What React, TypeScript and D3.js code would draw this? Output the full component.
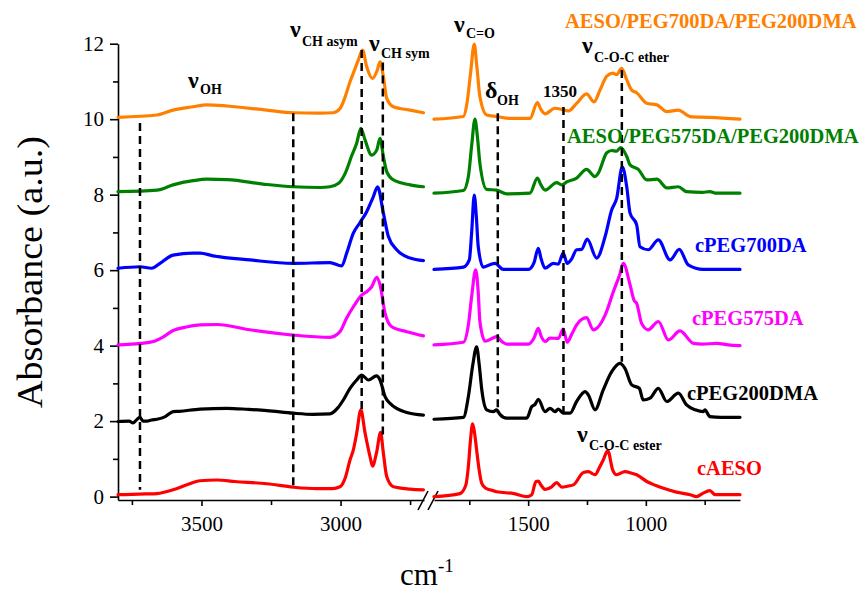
import React, { useEffect, useRef } from 'react';
import * as d3 from 'd3';

// samples, stacked bottom -> top
const seriesNames = [
  'cAESO',
  'cPEG200DMA',
  'cPEG575DA',
  'cPEG700DA',
  'AESO/PEG575DA/PEG200DMA',
  'AESO/PEG700DA/PEG200DMA',
];
const seriesColors = ['#ff0000', '#000000', '#ff00ff', '#0000ff', '#008000', '#ff8000'];
const seriesOffsets = [0, 2, 4, 6, 8, 10];

// axis ticks
const yMajorTicks = [0, 2, 4, 6, 8, 10, 12];
const yMinorTicks = [1, 3, 5, 7, 9, 11];
const highMajorTicks = [3500, 3000];
const highMinorTicks = [3750, 3250, 2750];
const lowMajorTicks = [1500, 1000];
const lowMinorTicks = [1750, 1250, 750];

// [wavenumber cm-1, absorbance] (before offset)
const aesoHigh = [
  [3800, 0.05], [3750, 0.06], [3700, 0.07], [3660, 0.08], [3602, 0.18], [3550, 0.32], [3505, 0.42],
  [3444, 0.44], [3380, 0.4], [3265, 0.34], [3170, 0.25], [3085, 0.21], [3030, 0.21], [3002, 0.26],
  [2983, 0.5], [2966, 0.97], [2954, 1.24], [2942, 1.68], [2927, 2.3], [2912, 1.69], [2894, 1.06],
  [2885, 0.81], [2871, 1.15], [2856, 1.7], [2846, 1.15], [2834, 0.53], [2810, 0.26], [2750, 0.2], [2702, 0.18],
];
const aesoLow = [
  [1900, 0.0], [1790, 0.08], [1765, 0.3], [1754, 0.8], [1745, 1.5], [1736, 1.93], [1728, 1.7], [1719, 1.24],
  [1708, 0.7], [1697, 0.35], [1680, 0.22], [1662, 0.18], [1634, 0.13], [1560, 0.08], [1506, 0.0], [1485, 0.05],
  [1467, 0.4], [1457, 0.41], [1445, 0.3], [1428, 0.19], [1400, 0.26], [1379, 0.37], [1357, 0.25], [1330, 0.28],
  [1308, 0.31], [1265, 0.64], [1244, 0.66], [1216, 0.58], [1195, 0.8], [1181, 0.97], [1162, 1.22], [1141, 0.71],
  [1124, 0.58], [1089, 0.66], [1060, 0.62], [1039, 0.58], [996, 0.4], [960, 0.3], [925, 0.22], [870, 0.12],
  [812, 0.05], [784, 0.0], [760, 0.08], [728, 0.16], [706, 0.05], [650, 0.05], [600, 0.05],
];

const peg200High = [
  [3800, -0.01], [3760, 0.0], [3746, -0.05], [3735, 0.02], [3721, 0.1], [3710, 0.0], [3696, 0.0], [3680, 0.03],
  [3660, 0.05], [3630, 0.12], [3602, 0.25], [3580, 0.26], [3505, 0.32], [3408, 0.34], [3330, 0.31], [3265, 0.28],
  [3170, 0.21], [3100, 0.18], [3038, 0.19], [3010, 0.35], [2990, 0.56], [2966, 0.87], [2942, 1.09], [2924, 1.22],
  [2900, 1.09], [2871, 1.2], [2858, 1.09], [2840, 0.65], [2822, 0.47], [2762, 0.23], [2702, 0.16],
];
const peg200Low = [
  [1900, 0.05], [1775, 0.1], [1754, 0.65], [1735, 1.5], [1719, 1.97], [1708, 1.5], [1697, 0.83], [1676, 0.3],
  [1648, 0.25], [1634, 0.3], [1620, 0.18], [1591, 0.08], [1506, 0.08], [1485, 0.38], [1470, 0.45], [1457, 0.58],
  [1428, 0.25], [1407, 0.34], [1386, 0.25], [1372, 0.32], [1351, 0.21], [1322, 0.21], [1294, 0.52], [1258, 0.78],
  [1244, 0.69], [1216, 0.3], [1181, 0.83], [1145, 1.31], [1110, 1.53], [1089, 1.4], [1060, 0.96], [1028, 0.87],
  [1011, 0.56], [982, 0.61], [947, 0.87], [911, 0.52], [862, 0.74], [827, 0.43], [790, 0.3], [756, 0.25],
  [749, 0.3], [728, 0.12], [680, 0.1], [600, 0.1],
];

const peg575High = [
  [3800, 0.02], [3720, 0.06], [3673, 0.11], [3640, 0.22], [3602, 0.4], [3550, 0.5], [3505, 0.55], [3444, 0.56],
  [3326, 0.42], [3170, 0.28], [3038, 0.22], [3002, 0.37], [2978, 0.73], [2954, 1.03], [2924, 1.34], [2906, 1.43],
  [2888, 1.56], [2870, 1.81], [2858, 1.61], [2840, 0.86], [2816, 0.5], [2762, 0.37], [2702, 0.26],
];
const peg575Low = [
  [1900, 0.02], [1775, 0.09], [1754, 0.55], [1740, 1.3], [1723, 2.01], [1712, 1.4], [1705, 0.64], [1683, 0.12],
  [1650, 0.2], [1634, 0.24], [1610, 0.1], [1591, 0.04], [1499, 0.04], [1475, 0.2], [1457, 0.46], [1445, 0.25],
  [1428, 0.11], [1407, 0.2], [1372, 0.19], [1351, 0.44], [1334, 0.09], [1315, 0.3], [1294, 0.55], [1252, 0.74],
  [1223, 0.42], [1173, 0.81], [1138, 1.43], [1110, 1.9], [1096, 2.18], [1067, 1.61], [1050, 1.2], [1039, 1.12],
  [1018, 0.59], [990, 0.42], [947, 0.64], [904, 0.15], [855, 0.39], [798, 0.06], [760, 0.04], [699, 0.06],
  [650, 0.02], [600, 0.0],
];

const peg700High = [
  [3800, 0.05], [3721, 0.09], [3679, 0.05], [3649, 0.18], [3602, 0.4], [3530, 0.45], [3505, 0.45], [3458, 0.38],
  [3326, 0.27], [3170, 0.18], [3038, 0.2], [2996, 0.11], [2978, 0.45], [2954, 0.98], [2930, 1.26], [2906, 1.55],
  [2882, 1.95], [2867, 2.21], [2846, 1.51], [2828, 0.89], [2798, 0.54], [2750, 0.32], [2702, 0.25],
];
const peg700Low = [
  [1900, 0.02], [1775, 0.08], [1750, 0.27], [1740, 1.0], [1729, 1.99], [1720, 1.4], [1712, 0.62], [1691, 0.08],
  [1660, 0.15], [1641, 0.18], [1606, 0.02], [1499, 0.02], [1475, 0.2], [1457, 0.58], [1445, 0.3], [1428, 0.05],
  [1393, 0.18], [1372, 0.16], [1351, 0.45], [1334, 0.18], [1315, 0.3], [1294, 0.54], [1273, 0.55], [1249, 0.82],
  [1209, 0.32], [1173, 0.89], [1145, 1.6], [1124, 1.9], [1100, 2.74], [1081, 2.2], [1067, 1.51], [1039, 1.2],
  [1025, 0.62], [990, 0.54], [947, 0.8], [897, 0.27], [858, 0.55], [820, 0.14], [756, 0.02], [700, 0.02], [600, 0.02],
];

const blend575High = [
  [3800, 0.08], [3660, 0.12], [3602, 0.26], [3530, 0.37], [3481, 0.41], [3408, 0.4], [3265, 0.27], [3170, 0.21],
  [3074, 0.19], [3038, 0.21], [3007, 0.3], [2983, 0.57], [2959, 1.05], [2942, 1.36], [2927, 1.76], [2912, 1.45],
  [2888, 1.05], [2870, 1.18], [2858, 1.49], [2846, 1.01], [2834, 0.61], [2810, 0.39], [2750, 0.26], [2702, 0.21],
];
const blend575Low = [
  [1900, 0.04], [1775, 0.11], [1754, 0.48], [1740, 1.3], [1726, 2.0], [1715, 1.5], [1705, 0.83], [1676, 0.14],
  [1634, 0.12], [1591, 0.02], [1492, 0.04], [1461, 0.44], [1445, 0.25], [1428, 0.12], [1379, 0.32], [1357, 0.26],
  [1336, 0.34], [1294, 0.44], [1252, 0.67], [1216, 0.48], [1202, 0.57], [1166, 1.11], [1145, 1.17], [1125, 1.15],
  [1107, 1.25], [1081, 1.01], [1067, 0.79], [1032, 0.67], [996, 0.39], [953, 0.41], [911, 0.18], [862, 0.21],
  [827, 0.08], [760, 0.06], [728, 0.08], [700, 0.04], [600, 0.04],
];

const blend700High = [
  [3800, 0.05], [3660, 0.11], [3602, 0.24], [3530, 0.33], [3481, 0.38], [3408, 0.35], [3265, 0.24], [3170, 0.17],
  [3074, 0.16], [3026, 0.17], [3002, 0.28], [2983, 0.6], [2966, 0.99], [2952, 1.26], [2936, 1.57], [2921, 1.83],
  [2906, 1.39], [2885, 1.08], [2868, 1.3], [2858, 1.52], [2846, 1.13], [2834, 0.55], [2810, 0.33], [2750, 0.24],
  [2702, 0.17],
];
const blend700Low = [
  [1900, 0.0], [1775, 0.07], [1760, 0.42], [1745, 1.2], [1729, 1.99], [1718, 1.4], [1705, 0.6], [1676, 0.11],
  [1634, 0.07], [1577, 0.02], [1492, 0.02], [1461, 0.44], [1445, 0.25], [1428, 0.14], [1386, 0.29], [1357, 0.26],
  [1329, 0.22], [1294, 0.42], [1252, 0.67], [1220, 0.46], [1195, 0.77], [1166, 1.14], [1141, 1.22], [1124, 1.18],
  [1103, 1.35], [1081, 1.04], [1060, 0.77], [1039, 0.7], [996, 0.42], [953, 0.38], [911, 0.2], [862, 0.24],
  [812, 0.07], [728, 0.05], [600, 0.0],
];

const highSegments = [aesoHigh, peg200High, peg575High, peg700High, blend575High, blend700High];
const lowSegments = [aesoLow, peg200Low, peg575Low, peg700Low, blend575Low, blend700Low];

// dashed band markers: wavenumber, from / to (stacked absorbance)
const markerWavenumbers = [3721, 3170, 2924, 2848, 1629, 1350, 1102];
const markerTops = [9.9, 10.16, 11.83, 11.5, 10.16, 10.32, 11.3];
const markerBottoms = [0.18, 0.26, 2.25, 1.6, 2.21, 2.21, 3.57];

const App = () => {
  const svgRef = useRef(null);

  useEffect(() => {
    const width = 862;
    const height = 593;
    const font = '"Liberation Serif", "Times New Roman", serif';

    const svg = d3.select(svgRef.current);
    svg.selectAll('*').remove();
    svg.attr('width', width).attr('height', height);

    svg.append('rect').attr('width', width).attr('height', height).attr('fill', '#fff');

    // two x scales for the broken axis
    const xHigh = d3.scaleLinear().domain([3800, 2700]).range([118, 424]);
    const xLow = d3.scaleLinear().domain([1900, 600]).range([434, 740]);
    const y = d3.scaleLinear().domain([-0.09, 12]).range([500, 43.7]);
    const axisY = 500;
    const fmt = d3.format('d');

    // y axis
    const yAxis = svg.append('g').attr('transform', 'translate(118,0)');
    yAxis.call(d3.axisLeft(y).tickValues(yMajorTicks).tickFormat(fmt).tickSize(8).tickSizeOuter(0).tickPadding(6));
    const yMinor = svg.append('g').attr('transform', 'translate(118,0)');
    yMinor.call(d3.axisLeft(y).tickValues(yMinorTicks).tickSize(5).tickFormat(() => ''));
    yMinor.select('.domain').remove();

    // x axes
    const addX = (scale, major, minor) => {
      const g = svg.append('g').attr('transform', `translate(0,${axisY})`);
      g.call(d3.axisBottom(scale).tickValues(major).tickFormat(fmt).tickSize(6).tickSizeOuter(0).tickPadding(10));
      const m = svg.append('g').attr('transform', `translate(0,${axisY})`);
      m.call(d3.axisBottom(scale).tickValues(minor).tickSize(5).tickFormat(() => ''));
      m.select('.domain').remove();
    };
    addX(xHigh, highMajorTicks, highMinorTicks);
    addX(xLow, lowMajorTicks, lowMinorTicks);

    svg.selectAll('.domain, .tick line').attr('stroke', '#000').attr('stroke-width', 1.6);
    svg
      .selectAll('.tick text')
      .attr('fill', '#000')
      .style('font-family', font)
      .style('font-size', '21px');

    // axis break marks
    [424, 434].forEach(bx => {
      svg
        .append('line')
        .attr('x1', bx - 6)
        .attr('y1', axisY + 10)
        .attr('x2', bx + 4)
        .attr('y2', axisY - 9)
        .attr('stroke', '#000')
        .attr('stroke-width', 1.6);
    });

    // spectra
    seriesNames.forEach((name, i) => {
      const off = seriesOffsets[i];
      [
        [highSegments[i], xHigh],
        [lowSegments[i], xLow],
      ].forEach(([pts, xs]) => {
        const line = d3
          .line()
          .x(d => xs(d[0]))
          .y(d => y(d[1] + off))
          .curve(d3.curveMonotoneX);
        svg
          .append('path')
          .attr('d', line(pts))
          .attr('fill', 'none')
          .attr('stroke', seriesColors[i])
          .attr('stroke-width', 3.2)
          .attr('stroke-linejoin', 'round')
          .attr('stroke-linecap', 'round');
      });
    });

    // dashed markers
    markerWavenumbers.forEach((wn, i) => {
      const xs = wn > 2000 ? xHigh : xLow;
      svg
        .append('line')
        .attr('x1', xs(wn))
        .attr('x2', xs(wn))
        .attr('y1', y(markerTops[i]))
        .attr('y2', y(markerBottoms[i]))
        .attr('stroke', '#000')
        .attr('stroke-width', 2.5)
        .attr('stroke-dasharray', '8,5');
    });

    // band labels
    const bands = [
      { g: 'ν', sub: 'OH', x: 188, y: 88, sy: 94 },
      { g: 'ν', sub: 'CH asym', x: 290, y: 37, sy: 46 },
      { g: 'ν', sub: 'CH sym', x: 369, y: 51, sy: 58 },
      { g: 'ν', sub: 'C=O', x: 454, y: 32, sy: 38 },
      { g: 'δ', sub: 'OH', x: 485, y: 98, sy: 105 },
      { g: 'ν', sub: 'C-O-C ether', x: 582, y: 53, sy: 62 },
      { g: 'ν', sub: 'C-O-C ester', x: 577, y: 442, sy: 450 },
    ];
    bands.forEach(b => {
      svg
        .append('text')
        .attr('x', b.x)
        .attr('y', b.y)
        .style('font-family', font)
        .style('font-weight', 'bold')
        .style('font-size', '24px')
        .text(b.g);
      svg
        .append('text')
        .attr('x', b.x + 12)
        .attr('y', b.sy)
        .style('font-family', font)
        .style('font-weight', 'bold')
        .style('font-size', '14px')
        .text(b.sub);
    });
    svg
      .append('text')
      .attr('x', 543)
      .attr('y', 97)
      .style('font-family', font)
      .style('font-weight', 'bold')
      .style('font-size', '17px')
      .text('1350');

    // sample names
    const namePos = [
      [697, 475],
      [687, 400],
      [692, 325],
      [695, 252],
      [567, 143],
      [565, 28],
    ];
    seriesNames.forEach((name, i) => {
      svg
        .append('text')
        .attr('x', namePos[i][0])
        .attr('y', namePos[i][1])
        .attr('fill', seriesColors[i])
        .style('font-family', font)
        .style('font-weight', 'bold')
        .style('font-size', '20.5px')
        .text(name);
    });

    // axis titles
    svg
      .append('text')
      .attr('transform', 'translate(42,272) rotate(-90)')
      .attr('text-anchor', 'middle')
      .attr('textLength', 272)
      .attr('lengthAdjust', 'spacingAndGlyphs')
      .style('font-family', font)
      .style('font-size', '35px')
      .text('Absorbance (a.u.)');

    const xt = svg
      .append('text')
      .attr('x', 400)
      .attr('y', 585)
      .style('font-family', font)
      .style('font-size', '31px');
    xt.append('tspan').text('cm');
    xt.append('tspan').attr('dy', -13).style('font-size', '19px').text('-1');
  }, []);

  return <svg ref={svgRef} style={{ position: 'absolute', left: 0, top: 0 }}></svg>;
};

export default App;
